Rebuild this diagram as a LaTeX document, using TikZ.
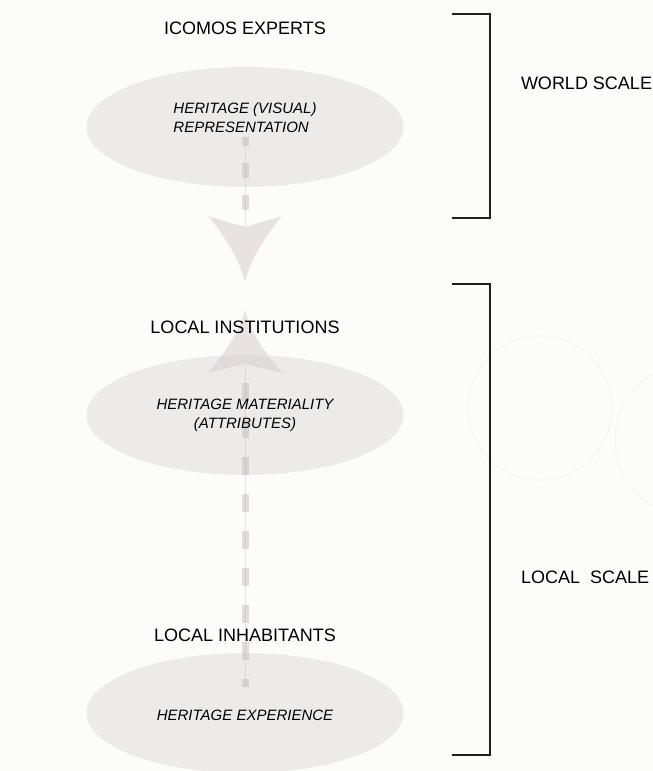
\documentclass[tikz,border=0pt]{standalone}
\usepackage{fontspec}
\setmainfont{Liberation Sans}
\usetikzlibrary{shapes.geometric}
\definecolor{bgc}{HTML}{FCFCFA}
\definecolor{ellc}{HTML}{EDEBEA}
\definecolor{arrc}{HTML}{D6CCC8}
\definecolor{dashc}{HTML}{C4B4B0}
\definecolor{ghostc}{HTML}{F6F2F2}
\definecolor{brc}{HTML}{1E1E1E}
\tikzset{
  every node/.style={inner sep=0pt, outer sep=0pt},
  oval/.style={ellipse, fill=ellc, minimum width=317pt, minimum height=120pt},
  actor/.style={font=\fontsize{18}{21}\selectfont, text=black},
  inner/.style={font=\fontsize{15}{19}\selectfont\itshape, text=black},
  scalelbl/.style={font=\fontsize{18}{21}\selectfont, text=black, anchor=west},
  bracketline/.style={draw=brc, line width=1.4pt},
  dashline/.style={draw=dashc, draw opacity=0.45, line width=7pt},
  thinline/.style={draw=dashc, draw opacity=0.35, line width=0.6pt},
  arrowhd/.style={fill=arrc, fill opacity=0.5},
  ghost/.style={draw=ghostc, line width=0.8pt}
}
\begin{document}
\begin{tikzpicture}[x=1pt,y=-1pt]
\useasboundingbox (0,0) rectangle (653,771);
\fill[bgc] (0,0) rectangle (653,771);
% faint ghost circles
\draw[ghost] (540,408) circle (72);
\draw[ghost] (692,440) circle (77);
% ellipses
\node[oval] (e1) at (245,127) {};
\node[oval] (e2) at (245,415) {};
\node[oval] (e3) at (245,713) {};
% connector coordinates
\coordinate (d1s) at (245,137);
\coordinate (d1e) at (245,210);
\coordinate (n1) at (245,227);
\coordinate (t1) at (245,282);
\coordinate (t2) at (245,310);
\coordinate (n2) at (245,364);
\coordinate (d2s) at (245,383);
\coordinate (d2e) at (245,687);
% thin centre lines
\draw[thinline] (d1s) -- (n1);
\draw[thinline] (n2) -- (d2e);
% dashed thick lines
\draw[dashline, dash pattern=on 15pt off 17pt] (d1e) -- (d1s);
\draw[dashline, dash pattern=on 18pt off 19pt] (d2s) -- (d2e);
% down arrowhead
\fill[arrowhd] (208,216) -- (n1) -- (282,216) .. controls (262,240) and (250,262) .. (t1) .. controls (240,262) and (228,240) .. (208,216) -- cycle;
% up arrowhead
\fill[arrowhd] (208,373) -- (n2) -- (282,373) .. controls (262,349) and (250,330) .. (t2) .. controls (240,330) and (228,349) .. (208,373) -- cycle;
% texts
\node[actor] (icomos) at (245,28) {ICOMOS EXPERTS};
\node[inner, align=left] (rep) at (245,117.5) {HERITAGE (VISUAL)\\REPRESENTATION};
\node[actor] (inst) at (245,327) {LOCAL INSTITUTIONS};
\node[inner, align=center] (mat) at (245,415.5) {HERITAGE MATERIALITY\\(ATTRIBUTES)};
\node[actor] (inhab) at (245,635) {LOCAL INHABITANTS};
\node[inner] (exp) at (245,715) {HERITAGE EXPERIENCE};
% brackets
\coordinate (b1a) at (452,14);
\coordinate (b1b) at (490,14);
\coordinate (b1c) at (490,218);
\coordinate (b1d) at (452,218);
\draw[bracketline] (b1a) -- (b1b) -- (b1c) -- (b1d);
\coordinate (b2a) at (452,284);
\coordinate (b2b) at (490,284);
\coordinate (b2c) at (490,755);
\coordinate (b2d) at (452,755);
\draw[bracketline] (b2a) -- (b2b) -- (b2c) -- (b2d);
\node[scalelbl] (world) at (521,83) {WORLD SCALE};
\node[scalelbl] (local) at (521,577) {LOCAL\ \ SCALE};
\end{tikzpicture}
\end{document}
